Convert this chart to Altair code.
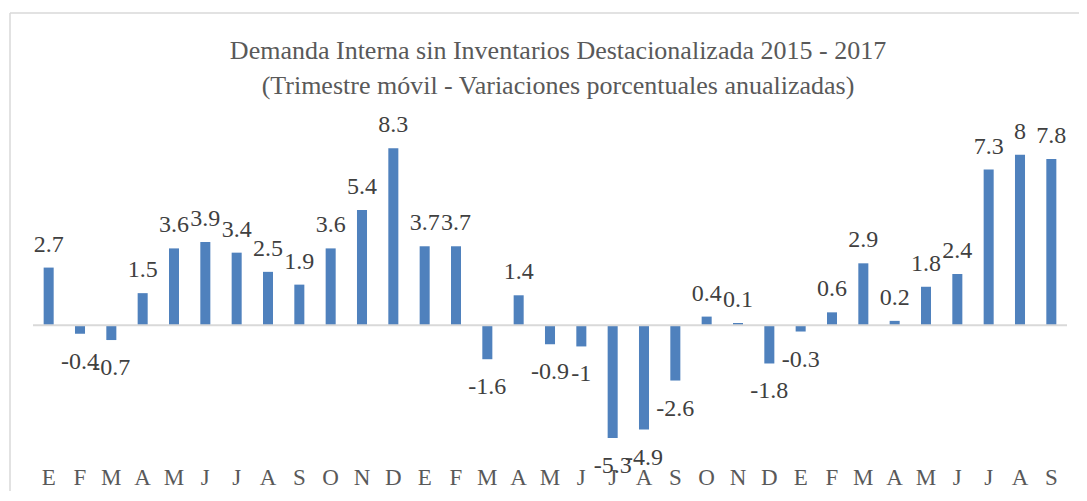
import altair as alt
import pandas as pd

months = ["E", "F", "M", "A", "M", "J", "J", "A", "S", "O", "N", "D",
          "E", "F", "M", "A", "M", "J", "J", "A", "S", "O", "N", "D",
          "E", "F", "M", "A", "M", "J", "J", "A", "S"]
values = [2.7, -0.4, -0.7, 1.5, 3.6, 3.9, 3.4, 2.5, 1.9, 3.6, 5.4, 8.3,
          3.7, 3.7, -1.6, 1.4, -0.9, -1.0, -5.3, -4.9, -2.6, 0.4, 0.1, -1.8,
          -0.3, 0.6, 2.9, 0.2, 1.8, 2.4, 7.3, 8.0, 7.8]
title_lines = ["Demanda Interna sin Inventarios Destacionalizada 2015 - 2017",
               "(Trimestre móvil - Variaciones porcentuales anualizadas)"]

df = pd.DataFrame({
    "i": list(range(len(values))),
    "mes": months,
    "valor": values,
    "etiqueta": [("%g" % v) for v in values],
})

FONT = "'Liberation Serif', 'DejaVu Serif', serif"
label_expr = "[" + ",".join("'%s'" % m for m in months) + "][datum.value]"

x = alt.X("i:O", title=None,
          scale=alt.Scale(paddingInner=0.68, paddingOuter=0.34),
          axis=alt.Axis(labelExpr=label_expr, labelAngle=0, domain=False,
                        ticks=False, labelFont=FONT, labelFontSize=23,
                        labelColor="#595959", labelPadding=13))
y = alt.Y("valor:Q", title=None, scale=alt.Scale(domain=[-6, 10], nice=False),
          axis=None)

base = alt.Chart(df)
one = pd.DataFrame({"k": [0]})

frame_top = alt.Chart(one).mark_rule(color="#D9D9D9", strokeWidth=1.5).encode(
    x=alt.value(-23), x2=alt.value(1080), y=alt.value(-99)
)
frame_left = alt.Chart(one).mark_rule(color="#D9D9D9", strokeWidth=1.5).encode(
    x=alt.value(-23), y=alt.value(-99), y2=alt.value(420)
)

bars = base.mark_bar(color="#4F81BD").encode(x=x, y=y)

zero = alt.Chart(pd.DataFrame({"valor": [0]})).mark_rule(
    color="#D9D9D9", strokeWidth=2
).encode(y=y)

pos_labels = base.transform_filter("datum.valor >= 0").mark_text(
    baseline="bottom", dy=-11, font=FONT, fontSize=24, color="#404040"
).encode(x=x, y=y, text="etiqueta:N")

neg_labels = base.transform_filter("datum.valor < 0").mark_text(
    baseline="top", dy=16, font=FONT, fontSize=24, color="#404040"
).encode(x=x, y=y, text="etiqueta:N")

chart = alt.layer(frame_top, frame_left, bars, zero, pos_labels, neg_labels).properties(
    width=1034, height=341,
    background="white",
    title=alt.TitleParams(text=title_lines, font=FONT, fontSize=26,
                          fontWeight="normal", color="#595959", anchor="middle",
                          frame="group", lineHeight=35, offset=-87, dx=8),
    autosize=alt.AutoSizeParams(type="none"),
    padding={"left": 25, "top": 104, "right": 12, "bottom": 38},
).configure_view(strokeWidth=0)

chart.save("out.html", embed_options={"renderer": "svg", "actions": False})
